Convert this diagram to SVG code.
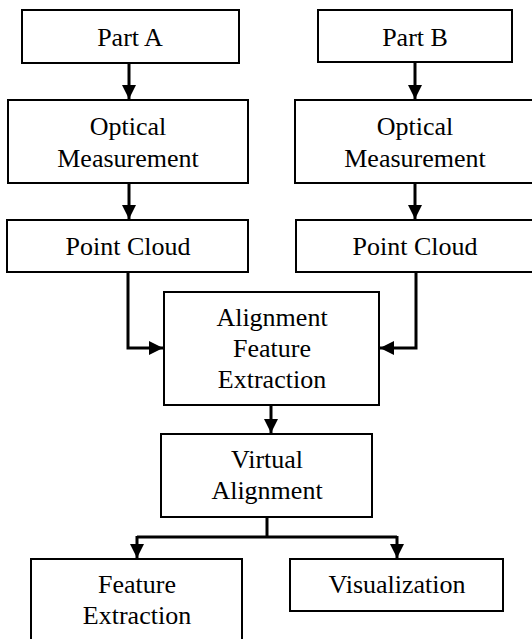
<svg xmlns="http://www.w3.org/2000/svg" width="532" height="639" viewBox="0 0 532 639">
<style>
rect{fill:#fff;stroke:#000;stroke-width:2}
text{font-family:'Liberation Serif','DejaVu Serif',serif;font-size:26px;fill:#000;text-anchor:middle}
.c{fill:none;stroke:#000;stroke-width:3}
</style>
<defs>
<marker id="ah" markerUnits="userSpaceOnUse" markerWidth="16" markerHeight="16" refX="14" refY="7" orient="auto">
<path d="M0,0 L14,7 L0,14 Z" fill="#000"/>
</marker>
</defs>
<rect x="0" y="0" width="532" height="639" style="stroke:none"/>
<g id="connectors">
<path class="c" d="M129,63 V99" marker-end="url(#ah)"/>
<path class="c" d="M129,183 V219" marker-end="url(#ah)"/>
<path class="c" d="M415,62 V99" marker-end="url(#ah)"/>
<path class="c" d="M415,183 V219" marker-end="url(#ah)"/>
<path class="c" d="M128,272 V348 H163" marker-end="url(#ah)"/>
<path class="c" d="M416,272 V348 H380" marker-end="url(#ah)"/>
<path class="c" d="M271,405 V433" marker-end="url(#ah)"/>
<path class="c" d="M267,517 V537"/>
<path class="c" d="M137,537 H397"/>
<path class="c" d="M137,536 V558" marker-end="url(#ah)"/>
<path class="c" d="M397,536 V558" marker-end="url(#ah)"/>
</g>
<g id="partA"><rect x="22" y="10" width="217" height="53"/><text x="130" y="46">Part A</text></g>
<g id="opticalA"><rect x="8" y="100" width="240" height="83"/><text x="128" y="135">Optical</text><text x="128" y="167">Measurement</text></g>
<g id="pointCloudA"><rect x="7" y="220" width="241" height="52"/><text x="128" y="255">Point Cloud</text></g>
<g id="partB"><rect x="318" y="10" width="194" height="52"/><text x="415" y="46">Part B</text></g>
<g id="opticalB"><rect x="295" y="100" width="245" height="83"/><text x="415" y="135">Optical</text><text x="415" y="167">Measurement</text></g>
<g id="pointCloudB"><rect x="296" y="220" width="244" height="52"/><text x="415" y="255">Point Cloud</text></g>
<g id="alignFeat"><rect x="164" y="292" width="215" height="113"/><text x="272" y="326">Alignment</text><text x="272" y="357">Feature</text><text x="272" y="388">Extraction</text></g>
<g id="virtualAlign"><rect x="161" y="434" width="211" height="83"/><text x="267" y="468">Virtual</text><text x="267" y="499">Alignment</text></g>
<g id="featureExtraction"><rect x="31" y="559" width="211" height="95"/><text x="137" y="593">Feature</text><text x="137" y="624">Extraction</text></g>
<g id="visualization"><rect x="290" y="559" width="213" height="52"/><text x="397" y="593">Visualization</text></g>
</svg>
